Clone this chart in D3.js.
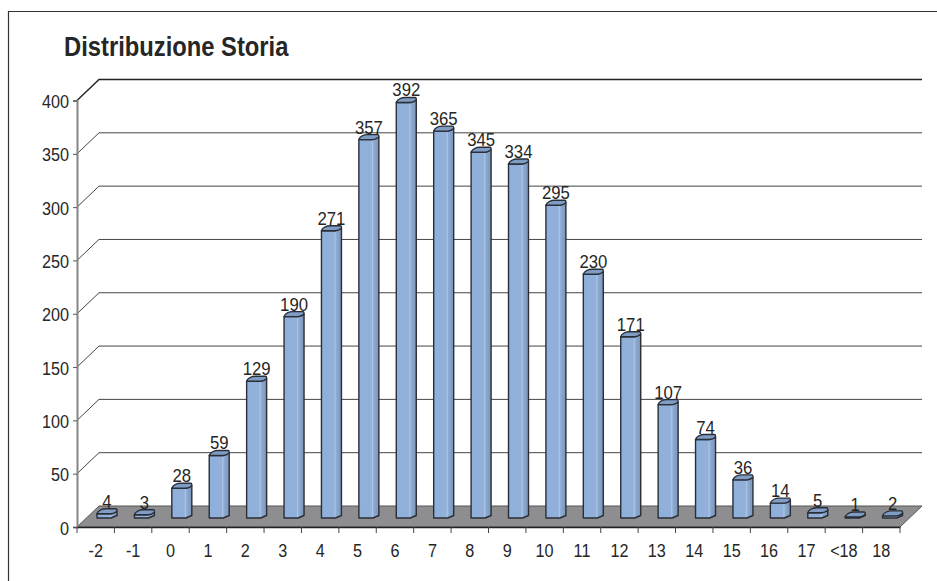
<!DOCTYPE html>
<html><head><meta charset="utf-8">
<script src="https://cdn.jsdelivr.net/npm/d3@7"></script>
<style>html,body{margin:0;background:#fff}svg{display:block}text{font-family:"Liberation Sans",Arial,sans-serif;fill:#262626}</style>
</head><body><svg id="c" width="937" height="581"></svg>
<script>
const categories=["-2","-1","0","1","2","3","4","5","6","7","8","9","10","11","12","13","14","15","16","17","<18","18"];
const values=[4,3,28,59,129,190,271,357,392,365,345,334,295,230,171,107,74,36,14,5,1,2];
const yTicks=[0,50,100,150,200,250,300,350,400];
const title="Distribuzione Storia";

const svg=d3.select("#c");
const x=d3.scaleBand().domain(categories).range([77,900]);
const y=d3.scaleLinear().domain([0,400]).range([527,100.5]);
const barY=d3.scaleLinear().domain([0,400]).range([518,94]);
const dx=22,dy=21,bw=14,bd=6,bh=5;

function squeeze(sel,k){sel.each(function(){const l=this.getComputedTextLength();this.setAttribute("textLength",l*k);this.setAttribute("lengthAdjust","spacingAndGlyphs");});}

const defs=svg.append("defs");
const g=defs.append("linearGradient").attr("id","bar");
[[0,"#8fb0dc"],[0.62,"#91b0da"],[0.68,"#aec4e2"],[0.74,"#8dabd3"],[1,"#7b94b9"]].forEach(s=>g.append("stop").attr("offset",s[0]).attr("stop-color",s[1]));

// frame
svg.append("path").attr("d","M937 11.5H8.5V581").attr("fill","none").attr("stroke","#333").attr("stroke-width",1.2);

svg.append("text").attr("x",64).attr("y",56).attr("font-size",27).attr("font-weight","bold").text(title).call(squeeze,0.88);

// gridlines
const grid=svg.append("g");
yTicks.filter(d=>d>0).forEach(d=>{
  const yy=y(d);
  grid.append("path").attr("d",`M${x.range()[0]} ${yy}L${x.range()[0]+dx} ${yy-dy}H${x.range()[1]+dx}`)
    .attr("fill","none").attr("stroke",d===400?"#222":"#444").attr("stroke-width",d===400?1.4:1);
});

// floor
const x0=x.range()[0],x1=x.range()[1],y0=y(0);
svg.append("path").attr("d",`M${x0} ${y0}L${x0+dx} ${y0-dy}H${x1+dx}L${x1} ${y0}Z`).attr("fill","#8e8e91").attr("stroke","#555").attr("stroke-width",1);

// y axis
const yAxis=svg.append("g").attr("transform",`translate(${x0},0)`).call(d3.axisLeft(y).tickValues(yTicks).tickSize(4).tickPadding(4));
yAxis.attr("font-family",null);
yAxis.select(".domain").attr("stroke","#858585").attr("stroke-width",2);
yAxis.selectAll(".tick line").attr("stroke","#555");
yAxis.selectAll("text").attr("font-size",18).attr("dy",7).call(squeeze,0.9);

// x axis
const xAxis=svg.append("g").attr("transform",`translate(0,${y0})`).call(d3.axisBottom(x).tickSize(0).tickPadding(17));
xAxis.attr("font-family",null);
xAxis.select(".domain").attr("stroke","#222").attr("stroke-width",1.4);
xAxis.selectAll("text").attr("font-size",18).attr("dy",13).call(squeeze,0.9);
xAxis.selectAll(".edge").data(categories.concat([""])).enter().append("line").attr("class","edge")
  .attr("x1",(d,i)=>x0+i*x.step()).attr("x2",(d,i)=>x0+i*x.step()).attr("y1",0).attr("y2",6).attr("stroke","#444");

// bars
const bars=svg.append("g").selectAll("g").data(values).enter().append("g")
  .attr("transform",(d,i)=>`translate(${x(categories[i])+20},0)`);
const stroke="#2a2e36";
bars.append("path").attr("d",d=>{const t=barY(d),b=barY(0);
  return `M0 ${t}V${b}H${bw}L${bw+bd} ${b-bh/2}V${t-bh/2}L${bw} ${t}Z`;})
  .attr("fill","url(#bar)").attr("stroke",stroke).attr("stroke-width",1.4).attr("stroke-linejoin","round");
bars.append("path").attr("d",d=>{const t=barY(d);
  return `M0 ${t}C1 ${t-3} 5 ${t-bh} 9 ${t-bh}H${bw+bd-1}Q${bw+bd} ${t-bh} ${bw+bd} ${t-bh/2}Q${bw+3} ${t} ${bw} ${t}Z`;})
  .attr("fill","#7f9cc5").attr("stroke",stroke).attr("stroke-width",1.4).attr("stroke-linejoin","round");
bars.append("text").attr("x",10).attr("y",d=>barY(d)-6).attr("text-anchor","middle").attr("font-size",19).text(d=>d).call(squeeze,0.88);
</script></body></html>
